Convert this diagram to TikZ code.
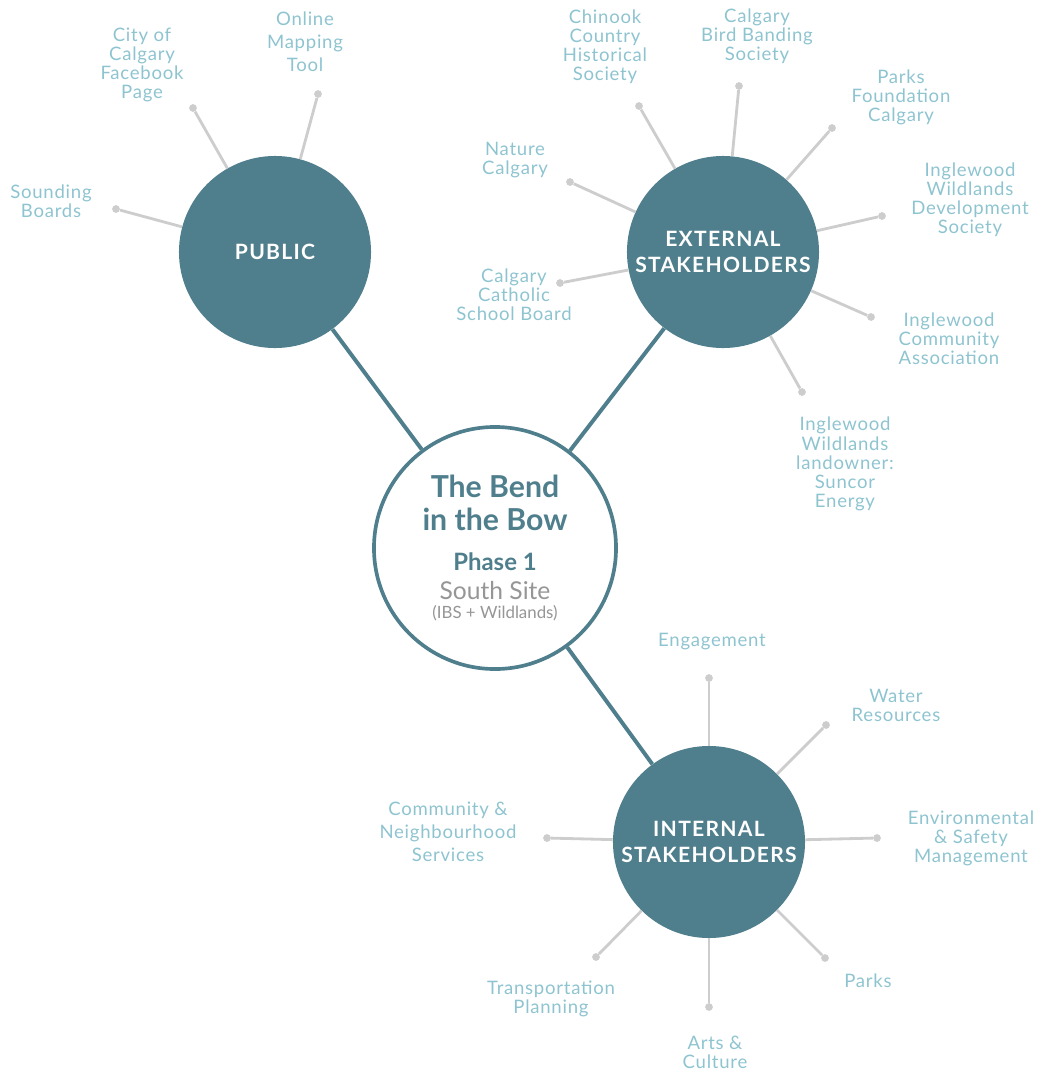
\documentclass[tikz,border=0pt]{standalone}
\usepackage{fontspec}
\setmainfont{Lato}
\usetikzlibrary{positioning}
\definecolor{bowteal}{RGB}{79,126,140}
\definecolor{labelblue}{RGB}{142,196,208}
\definecolor{spokegray}{RGB}{205,205,205}
\definecolor{sitegray}{RGB}{150,150,150}

\begin{document}
\begin{tikzpicture}[
    x=0.025cm, y=-0.025cm,
    hub/.style={circle, fill=bowteal, text=white, minimum size=4.8cm, inner sep=0pt, align=center, font=\fontsize{15}{18}\selectfont\bfseries\addfontfeature{LetterSpace=6}},
    core/.style={circle, draw=bowteal, line width=2.6pt, fill=white, minimum size=6.05cm, inner sep=0pt},
    dot/.style={circle, fill=spokegray, minimum size=5.5pt, inner sep=0pt},
    spoke/.style={spokegray, line width=2pt},
    link/.style={bowteal, line width=2.8pt},
    label/.style={labelblue, align=center, font=\fontsize{13.2}{13.6}\selectfont\addfontfeature{LetterSpace=4}},
    widelabel/.style={label, font=\fontsize{13.2}{16.3}\selectfont\addfontfeature{LetterSpace=4}}
]
\useasboundingbox (0,0) rectangle (1041,1074);

% Hubs
\node[hub] (pub) at (275,252) {PUBLIC};
\node[hub] (ext) at (723,252) {EXTERNAL\\STAKEHOLDERS};
\node[hub] (int) at (709,842) {INTERNAL\\STAKEHOLDERS};
\node[core] (bend) at (495,548) {};

% Centre text
\node[bowteal, align=center, font=\fontsize{21.5}{23.5}\selectfont\bfseries] at (495,503) {The Bend\\in the Bow};
\node[bowteal, font=\fontsize{17}{18}\selectfont\bfseries] at (495,562) {Phase 1};
\node[sitegray, font=\fontsize{17.5}{18}\selectfont] at (495,591) {South Site};
\node[sitegray, font=\fontsize{12}{12}\selectfont] at (495,613) {(IBS + Wildlands)};

% Links to centre
\draw[link] (bend) -- (pub);
\draw[link] (bend) -- (ext);
\draw[link] (bend) -- (int);

% Public
\node[dot] (p1) at (116,209) {};
\node[dot] (p2) at (193,108) {};
\node[dot] (p3) at (318,94) {};
\foreach \d in {p1,p2,p3} \draw[spoke] (\d) -- (pub);
\node[label] at (51,201) {Sounding\\Boards};
\node[label] at (142,65) {City of\\Calgary\\Facebook\\Page};
\node[widelabel] at (305,42) {Online\\Mapping\\Tool};

% External
\node[dot] (e1) at (570,182) {};
\node[dot] (e2) at (639,106) {};
\node[dot] (e3) at (739,86) {};
\node[dot] (e4) at (832,128) {};
\node[dot] (e5) at (882,216) {};
\node[dot] (e6) at (871,317) {};
\node[dot] (e7) at (802,392) {};
\node[dot] (e8) at (560,283) {};
\foreach \d in {e1,e2,e3,e4,e5,e6,e7,e8} \draw[spoke] (\d) -- (ext);
\node[label] at (515,160) {Nature\\Calgary};
\node[label] at (605,47) {Chinook\\Country\\Historical\\Society};
\node[label] at (757,36) {Calgary\\Bird Banding\\Society};
\node[label] at (901,97) {Parks\\Foundation\\Calgary};
\node[label] at (970,200) {Inglewood\\Wildlands\\Development\\Society};
\node[label] at (949,339) {Inglewood\\Community\\Association};
\node[label] at (845,464) {Inglewood\\Wildlands\\landowner:\\Suncor\\Energy};
\node[label] at (514,295) {Calgary\\Catholic\\School Board};

% Internal
\node[dot] (i1) at (709,678) {};
\node[dot] (i2) at (826,725) {};
\node[dot] (i3) at (877,838) {};
\node[dot] (i4) at (825,958) {};
\node[dot] (i5) at (709,1007) {};
\node[dot] (i6) at (596,957) {};
\node[dot] (i7) at (547,838) {};
\foreach \d in {i1,i2,i3,i4,i5,i6,i7} \draw[spoke] (\d) -- (int);
\node[label] at (712,642) {Engagement};
\node[label] at (896,705) {Water\\Resources};
\node[label] at (971,838) {Environmental\\\& Safety\\Management};
\node[label] at (868,981) {Parks};
\node[label] at (715,1052) {Arts \&\\Culture};
\node[label] at (551,999) {Transportation\\Planning};
\node[widelabel] at (448,832) {Community \&\\Neighbourhood\\Services};

\end{tikzpicture}
\end{document}
